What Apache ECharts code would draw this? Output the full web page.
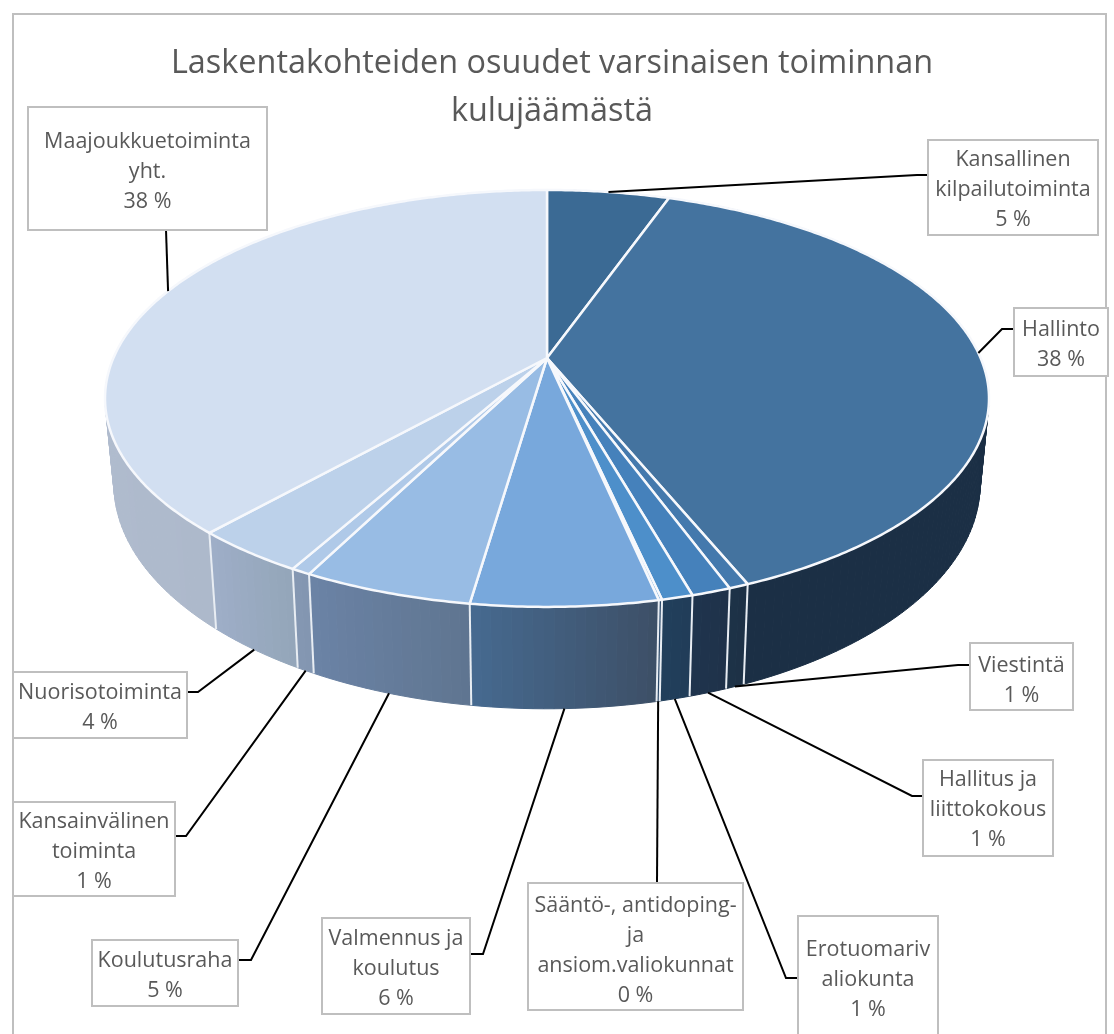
<!DOCTYPE html>
<html>
<head>
<meta charset="utf-8">
<title>Laskentakohteiden osuudet</title>
<style>
  html, body { margin: 0; padding: 0; background: #fff; overflow: hidden; }
  #main { width: 1114px; height: 1034px; }
</style>
<script src="https://cdn.jsdelivr.net/npm/echarts@6/dist/echarts.min.js"></script>
</head>
<body>
<div id="main"></div>
<script>
var titleText = 'Laskentakohteiden osuudet varsinaisen toiminnan\nkulujäämästä';
// viipaleet myötäpäivään klo 12:sta
var names = [
  'Kansallinen\nkilpailutoiminta',
  'Hallinto',
  'Viestintä',
  'Hallitus ja\nliittokokous',
  'Erotuomariv\naliokunta',
  'Sääntö-, antidoping-\nja\nansiom.valiokunnat',
  'Valmennus ja\nkoulutus',
  'Koulutusraha',
  'Kansainvälinen\ntoiminta',
  'Nuorisotoiminta',
  'Maajoukkuetoiminta\nyht.'
];
var values = [5.4, 38.4, 0.6, 1.2, 0.95, 0.1, 5.65, 5.2, 0.6, 3.5, 38.4];

var topColors = ['#3b6a94', '#44739f', '#4479ad', '#4581bb', '#4d8fca', '#5a97d2', '#78a8dc', '#98bce4', '#afc9e8', '#bcd1ea', '#d2dff1'];
var wallLeft = ['#24415c', '#1b2f45', '#1d3248', '#1f344d', '#213f5c', '#2a4868', '#466a90', '#6b83a6', '#8497b3', '#9eaec8', '#b8c3d6'];
var wallRight = ['#24415c', '#1b2f45', '#1d3045', '#1f3249', '#213c58', '#2a4868', '#3d4f66', '#5f7590', '#8295b0', '#94a6b9', '#adb9cb'];

// laatikot: x, y, w, h
var labelBoxes = [
  [928, 140, 170, 95],
  [1014, 308, 94, 68],
  [970, 643, 103, 67],
  [923, 760, 130, 96],
  [798, 916, 140, 130],
  [528, 883, 215, 127],
  [322, 918, 148, 96],
  [92, 940, 146, 66],
  [13, 802, 162, 94],
  [13, 672, 174, 66],
  [28, 107, 239, 123]
];
var labelTextY = [190, 345, 681, 810, 980, 951, 969, 976, 852, 708, 172];
// polvi x, y ja viivan loppu x, y
var leaderBends = [
  [917, 175, 928, 175],
  [1002, 329, 1014, 329],
  [958, 665, 970, 665],
  [912, 796, 923, 796],
  [786, 978, 798, 978],
  [657, 883, 657, 883],
  [483, 954, 471, 954],
  [251, 960, 238, 960],
  [186, 836, 175, 836],
  [198, 692, 187, 692],
  [166, 230, 166, 230]
];

// perspektiivi: ympyrä -> kuvan koordinaatit
var apexX = 547, apexY = 358;
var persp = -0.194, scaleX = 433.6, scaleY = 200.6;
var wallScaleX = 0.98, wallScaleY = 1.08, wallDrop = 82;

var total = 0;
for (var t = 0; t < values.length; t++) { total += values[t]; }
var startAngles = [];
var run = 0;
for (var s = 0; s < values.length; s++) {
  startAngles.push(run / total * Math.PI * 2);
  run += values[s];
}
startAngles.push(Math.PI * 2);

function project(theta, bottom) {
  var X = Math.sin(theta);
  var Z = -Math.cos(theta);
  var den = 1 + persp * Z;
  var x = scaleX * X / den;
  var y = scaleY * Z / den;
  if (bottom) {
    return [apexX + x * wallScaleX, apexY + y * wallScaleY + wallDrop];
  }
  return [apexX + x, apexY + y];
}

function arcPoints(a0, a1, bottom) {
  var n = Math.max(2, Math.ceil((a1 - a0) / 0.01));
  var pts = [];
  for (var i = 0; i <= n; i++) {
    pts.push(project(a0 + (a1 - a0) * i / n, bottom));
  }
  return pts;
}

function renderWall(params) {
  var i = params.dataIndex;
  var a0 = startAngles[i], a1 = startAngles[i + 1];
  var n = Math.max(1, Math.ceil((a1 - a0) / 0.02));
  var children = [];
  // seinä kapeina paloina, niin reuna menee ylä- ja alakaaren väliltä suoraan
  for (var k = 0; k < n; k++) {
    var b0 = a0 + (a1 - a0) * k / n;
    var b1 = a0 + (a1 - a0) * (k + 1) / n;
    // etureunassa kulma kasvaa oikealta vasemmalle
    var c = echarts.color.lerp((k + 0.5) / n, [wallRight[i], wallLeft[i]]);
    children.push({
      type: 'polygon',
      shape: { points: [project(b0, false), project(b1, false), project(b1, true), project(b0, true)] },
      style: { fill: c, stroke: c, lineWidth: 1 }
    });
  }
  children.push({
    type: 'line',
    shape: {
      x1: project(a0, false)[0], y1: project(a0, false)[1],
      x2: project(a0, true)[0], y2: project(a0, true)[1]
    },
    style: { stroke: '#e8edf3', lineWidth: 2 }
  });
  return { type: 'group', children: children };
}

function renderTop(params) {
  var i = params.dataIndex;
  var pts = [[apexX, apexY]].concat(arcPoints(startAngles[i], startAngles[i + 1], false));
  return {
    type: 'polygon',
    shape: { points: pts },
    style: { fill: topColors[i], stroke: '#f6f8fc', lineWidth: 2.5, lineJoin: 'round' }
  };
}

function renderLabel(params, api) {
  var i = params.dataIndex;
  var mid = (startAngles[i] + startAngles[i + 1]) / 2;
  var front = -Math.cos(mid) > 0;
  var anchor = project(mid, front);
  var bend = leaderBends[i];
  var box = labelBoxes[i];
  return {
    type: 'group',
    children: [{
      type: 'polyline',
      shape: { points: [anchor, [bend[0], bend[1]], [bend[2], bend[3]]] },
      style: { fill: null, stroke: '#000', lineWidth: 2 }
    }, {
      type: 'rect',
      shape: { x: box[0], y: box[1], width: box[2], height: box[3] },
      style: { fill: '#fff', stroke: '#bfbfbf', lineWidth: 2 }
    }, {
      type: 'text',
      style: {
        text: names[i] + '\n' + Math.round(api.value(1)) + ' %',
        x: box[0] + box[2] / 2,
        y: labelTextY[i],
        align: 'center',
        verticalAlign: 'middle',
        fill: '#595959',
        font: '21.5px "Open Sans"',
        lineHeight: 30
      }
    }]
  };
}

var seriesData = [];
for (var d = 0; d < values.length; d++) {
  seriesData.push([d, values[d]]);
}

var myChart = echarts.init(document.getElementById('main'), null, { renderer: 'canvas' });
var option = {
  animation: false,
  backgroundColor: '#fff',
  title: {
    text: titleText,
    left: 547,
    top: 35,
    textAlign: 'center',
    textStyle: {
      fontFamily: 'Open Sans',
      fontSize: 32.4,
      fontWeight: 'normal',
      color: '#595959',
      lineHeight: 48
    }
  },
  graphic: [{
    type: 'rect',
    z: -1,
    shape: { x: 13, y: 14, width: 1093, height: 1060 },
    style: { fill: '#fff', stroke: '#bfbfbf', lineWidth: 2 }
  }],
  series: [
    { type: 'custom', coordinateSystem: 'none', silent: true, renderItem: renderWall, data: seriesData, z: 2 },
    { type: 'custom', coordinateSystem: 'none', silent: true, renderItem: renderTop, data: seriesData, z: 3 },
    { type: 'custom', coordinateSystem: 'none', silent: true, renderItem: renderLabel, data: seriesData, z: 4 }
  ]
};
myChart.setOption(option);
</script>
</body>
</html>
